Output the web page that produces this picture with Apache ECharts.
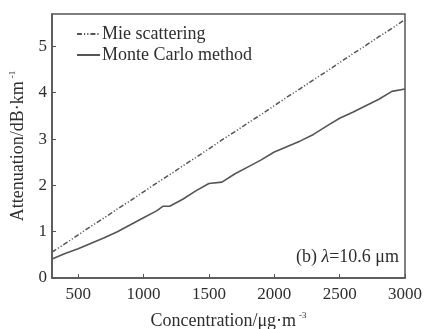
<!DOCTYPE html>
<html>
<head>
<meta charset="utf-8">
<script src="https://cdn.jsdelivr.net/npm/echarts@6/dist/echarts.min.js"></script>
<style>
  html, body { margin: 0; padding: 0; background: #fff; }
  #chart { width: 431px; height: 329px; }
</style>
</head>
<body>
<div id="chart"></div>
<script>
// Concentration (μg·m⁻³)
const concentration = [300, 400, 500, 600, 700, 800, 900, 1000, 1100, 1150, 1200, 1300, 1400, 1500,
  1600, 1700, 1800, 1900, 2000, 2100, 2200, 2300, 2400, 2500, 2600, 2700, 2800, 2900, 3000];

// Attenuation (dB·km⁻¹), Mie scattering
const mieAttenuation = [0.56, 0.74, 0.93, 1.12, 1.30, 1.49, 1.67, 1.86, 2.05, 2.14, 2.23, 2.42, 2.60, 2.79,
  2.98, 3.16, 3.35, 3.53, 3.72, 3.91, 4.09, 4.28, 4.46, 4.65, 4.84, 5.02, 5.21, 5.39, 5.58];

// Attenuation (dB·km⁻¹), Monte Carlo method
const monteCarloAttenuation = [0.41, 0.53, 0.63, 0.75, 0.87, 1.00, 1.15, 1.30, 1.45, 1.55, 1.55, 1.70, 1.88, 2.04,
  2.07, 2.25, 2.40, 2.55, 2.72, 2.84, 2.96, 3.10, 3.28, 3.45, 3.58, 3.72, 3.86, 4.03, 4.08];

const xTickValues = [500, 1000, 1500, 2000, 2500, 3000];
const yTickValues = [0, 1, 2, 3, 4, 5];

const seriesNames = ['Mie scattering', 'Monte Carlo method'];

const font = 'Liberation Serif';
const ink = '#2e2e2e';
const frame = '#555';

const supStyle = { fontFamily: font, fontSize: 9, verticalAlign: 'top', padding: [0, 0, 12, 3], color: ink };

const chart = echarts.init(document.getElementById('chart'));

const pairs = (xs, ys) => xs.map((x, i) => [x, ys[i]]);

chart.setOption({
  animation: false,
  backgroundColor: '#fff',
  grid: {
    left: 52, top: 14, right: 26, bottom: 51,
    outerBoundsMode: 'none', containLabel: false,
    show: true, borderColor: frame, borderWidth: 1.5, backgroundColor: 'transparent'
  },
  legend: {
    left: 71, top: 20, orient: 'vertical',
    itemWidth: 23, itemHeight: 10, itemGap: 3,
    itemStyle: { opacity: 0 },
    textStyle: { fontFamily: font, fontSize: 18, letterSpacing: 1.1, color: ink, padding: [0, 0, 0, -3] },
    data: seriesNames
  },
  xAxis: {
    type: 'value', min: 300, max: 3000,
    name: 'Concentration/μg·m{sup|-3}',
    nameLocation: 'middle', nameGap: 33,
    nameTextStyle: {
      fontFamily: font, fontSize: 18, letterSpacing: 1.4, color: ink,
      rich: { sup: supStyle }
    },
    axisLine: { show: true, lineStyle: { color: frame, width: 1.5 } },
    axisTick: { show: true, inside: true, length: 4, customValues: xTickValues, lineStyle: { color: frame } },
    axisLabel: {
      customValues: xTickValues, formatter: v => String(v),
      fontFamily: font, fontSize: 17, letterSpacing: 1, color: ink, margin: 8
    },
    splitLine: { show: false }
  },
  yAxis: {
    type: 'value', min: 0, max: 5.7,
    name: 'Attenuation/dB·km{sup|-1}',
    nameLocation: 'middle', nameGap: 23,
    nameTextStyle: {
      fontFamily: font, fontSize: 18, letterSpacing: 1.3, color: ink,
      rich: { sup: supStyle }
    },
    axisLine: { show: true, lineStyle: { color: frame, width: 1.5 } },
    axisTick: { show: true, inside: true, length: 4, customValues: yTickValues, lineStyle: { color: frame } },
    axisLabel: {
      customValues: yTickValues, formatter: v => String(v),
      fontFamily: font, fontSize: 17, color: ink, margin: 5
    },
    splitLine: { show: false }
  },
  graphic: [{
    type: 'text', right: 32, bottom: 63,
    style: {
      text: '(b) {it|λ}=10.6 μm',
      font: '18px "Liberation Serif"', fill: ink,
      rich: { it: { fontFamily: font, fontStyle: 'italic', fontSize: 18, fill: ink } }
    }
  }],
  series: [
    {
      name: seriesNames[0], type: 'line', symbol: 'none',
      data: pairs(concentration, mieAttenuation),
      lineStyle: { color: '#555', width: 1.5, type: [5, 2, 1.2, 2, 1.2, 2] },
      itemStyle: { color: '#555' }
    },
    {
      name: seriesNames[1], type: 'line', symbol: 'none',
      data: pairs(concentration, monteCarloAttenuation),
      lineStyle: { color: '#555', width: 1.6 },
      itemStyle: { color: '#555' }
    }
  ]
});
</script>
</body>
</html>
